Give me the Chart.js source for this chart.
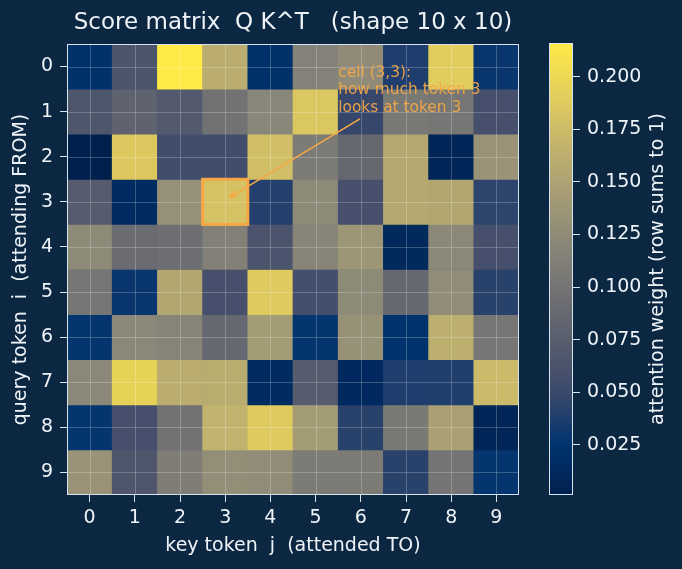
<!DOCTYPE html>
<html>
<head>
<meta charset="utf-8">
<script src="https://cdn.jsdelivr.net/npm/chart.js@4.4.1/dist/chart.umd.min.js"></script>
<style>
  html, body { margin: 0; padding: 0; background: #0c2741; }
  #wrap { position: relative; width: 682px; height: 569px; background: #0c2741; }
  #main { position: absolute; left: 0; top: 0; width: 540px; height: 569px; }
  #bar { position: absolute; left: 540px; top: 0; width: 142px; height: 569px; }
</style>
</head>
<body>
<div id="wrap">
  <div id="main"><canvas id="heat"></canvas></div>
  <div id="bar"><canvas id="cbar"></canvas></div>
</div>
<script>
// tokens (same for rows and columns)
var tokens = ['0', '1', '2', '3', '4', '5', '6', '7', '8', '9'];

// attention weights, one row per query token
var row0 = [0.022, 0.065, 0.216, 0.160, 0.022, 0.115, 0.125, 0.038, 0.190, 0.029];
var row1 = [0.066, 0.080, 0.070, 0.098, 0.120, 0.185, 0.048, 0.104, 0.102, 0.059];
var row2 = [0.0012, 0.186, 0.055, 0.055, 0.177, 0.108, 0.087, 0.156, 0.008, 0.134];
var row3 = [0.072, 0.016, 0.130, 0.180, 0.040, 0.124, 0.059, 0.156, 0.154, 0.044];
var row4 = [0.124, 0.091, 0.094, 0.113, 0.063, 0.118, 0.137, 0.012, 0.122, 0.059];
var row5 = [0.102, 0.029, 0.154, 0.059, 0.188, 0.057, 0.124, 0.087, 0.126, 0.042];
var row6 = [0.027, 0.122, 0.117, 0.086, 0.143, 0.027, 0.132, 0.024, 0.162, 0.102];
var row7 = [0.122, 0.195, 0.160, 0.159, 0.016, 0.072, 0.014, 0.038, 0.039, 0.173];
var row8 = [0.027, 0.059, 0.098, 0.166, 0.188, 0.143, 0.042, 0.106, 0.147, 0.008];
var row9 = [0.134, 0.066, 0.110, 0.128, 0.126, 0.108, 0.108, 0.042, 0.100, 0.027];
var weights = [row0, row1, row2, row3, row4, row5, row6, row7, row8, row9];

// colorbar tick labels
var cbTicks = [0.025, 0.050, 0.075, 0.100, 0.125, 0.150, 0.175, 0.200];

// cividis colour stops
var cividis = ['#00204D', '#00336F', '#39486B', '#575C6D', '#707173',
               '#8A8779', '#A69D75', '#C4B56C', '#E4CF5B', '#FFEA46'];

var allVals = weights.flat();
var vmin = Math.min.apply(null, allVals);
var vmax = Math.max.apply(null, allVals);

var FONT = 'DejaVu Sans';
var TXT = '#eef3f8';
var EDGE = '#d6e2ee';
var ORANGE = '#f7a845';
var GRID = 'rgba(255,255,255,0.22)';

function hexToRgb(h) {
  return [parseInt(h.substr(1, 2), 16), parseInt(h.substr(3, 2), 16), parseInt(h.substr(5, 2), 16)];
}
function cmap(t) {
  t = Math.max(0, Math.min(1, t));
  var p = t * (cividis.length - 1);
  var i = Math.min(Math.floor(p), cividis.length - 2);
  var f = p - i;
  var a = hexToRgb(cividis[i]), b = hexToRgb(cividis[i + 1]);
  var c = a.map(function (v, k) { return Math.round(v + (b[k] - v) * f); });
  return 'rgb(' + c[0] + ',' + c[1] + ',' + c[2] + ')';
}

// frame around the plot area
var framePlugin = {
  id: 'frame',
  afterDraw: function (chart) {
    var a = chart.chartArea, ctx = chart.ctx;
    ctx.save();
    ctx.strokeStyle = EDGE;
    ctx.lineWidth = 1;
    ctx.strokeRect(a.left + 0.5, a.top + 0.5, a.right - a.left - 1, a.bottom - a.top - 1);
    ctx.restore();
  }
};

// light grid over the cells, on the tick positions
var gridPlugin = {
  id: 'overGrid',
  afterDatasetsDraw: function (chart) {
    var x = chart.scales.x, y = chart.scales.y, a = chart.chartArea, ctx = chart.ctx;
    ctx.save();
    ctx.strokeStyle = GRID;
    ctx.lineWidth = 1;
    ctx.beginPath();
    tokens.forEach(function (t, i) {
      var px = Math.round(x.getPixelForValue(i)) + 0.5;
      ctx.moveTo(px, a.top);
      ctx.lineTo(px, a.bottom);
      var py = Math.round(y.getPixelForValue(i)) + 0.5;
      ctx.moveTo(a.left, py);
      ctx.lineTo(a.right, py);
    });
    ctx.stroke();
    ctx.restore();
  }
};

// highlight of cell (3,3) with its note
var notePlugin = {
  id: 'note',
  afterDraw: function (chart) {
    var x = chart.scales.x, y = chart.scales.y, ctx = chart.ctx;
    ctx.save();
    // box round the cell
    var x0 = x.getPixelForValue(2.5), x1 = x.getPixelForValue(3.5);
    var y0 = y.getPixelForValue(2.5), y1 = y.getPixelForValue(3.5);
    ctx.strokeStyle = ORANGE;
    ctx.lineWidth = 3;
    ctx.strokeRect(x0, y0, x1 - x0, y1 - y0);
    // arrow
    var sx = x.getPixelForValue(5.98), sy = y.getPixelForValue(1.16);
    var ex = x.getPixelForValue(3.1), ey = y.getPixelForValue(2.9);
    ctx.lineWidth = 1.6;
    ctx.beginPath();
    ctx.moveTo(sx, sy);
    ctx.lineTo(ex, ey);
    var ang = Math.atan2(ey - sy, ex - sx), hl = 8;
    ctx.moveTo(ex - hl * Math.cos(ang - 0.4), ey - hl * Math.sin(ang - 0.4));
    ctx.lineTo(ex, ey);
    ctx.lineTo(ex - hl * Math.cos(ang + 0.4), ey - hl * Math.sin(ang + 0.4));
    ctx.stroke();
    // text
    ctx.fillStyle = ORANGE;
    ctx.globalAlpha = 0.92;
    ctx.font = '15.4px "' + FONT + '"';
    ctx.textAlign = 'left';
    ctx.textBaseline = 'alphabetic';
    var tx = x.getPixelForValue(5.5), ty = y.getPixelForValue(1.0);
    ctx.fillText('cell (3,3):', tx, ty - 34.6);
    ctx.fillText('how much token 3', tx, ty - 17.3);
    ctx.fillText('looks at token 3', tx, ty);
    ctx.restore();
  }
};

var heatData = weights.map(function (row, r) {
  return {
    data: row.map(function () { return [r - 0.5, r + 0.5]; }),
    backgroundColor: row.map(function (v) { return cmap((v - vmin) / (vmax - vmin)); }),
    borderWidth: 0,
    grouped: false,
    barPercentage: 1,
    categoryPercentage: 1
  };
});

var heat = new Chart(document.getElementById('heat').getContext('2d'), {
  type: 'bar',
  data: { labels: tokens, datasets: heatData },
  options: {
    responsive: true,
    maintainAspectRatio: false,
    animation: false,
    layout: { padding: { top: 0, right: 21, bottom: 0, left: 0 } },
    plugins: {
      legend: { display: false },
      tooltip: { enabled: false },
      title: {
        display: true,
        fullSize: false,
        text: 'Score matrix  Q K^T   (shape 10 x 10)',
        color: TXT,
        font: { family: FONT, size: 23, weight: 'normal' },
        padding: { top: 9, bottom: 7.4 }
      }
    },
    scales: {
      x: {
        offset: true,
        grid: { offset: false, drawOnChartArea: false, tickColor: EDGE, tickLength: 7, lineWidth: 1 },
        border: { display: false },
        ticks: { color: TXT, font: { family: FONT, size: 19 }, padding: 5, maxRotation: 0 },
        title: {
          display: true, text: 'key token  j  (attended TO)', color: TXT,
          font: { family: FONT, size: 19 }, padding: { top: 0, bottom: 12 }
        },
        afterFit: function (s) { s.height = 74; }
      },
      y: {
        type: 'linear',
        reverse: true,
        min: -0.5,
        max: 9.5,
        afterBuildTicks: function (s) {
          s.ticks = tokens.map(function (t) { return { value: Number(t) }; });
        },
        grid: { drawOnChartArea: false, tickColor: EDGE, tickLength: 7, lineWidth: 1 },
        border: { display: false },
        ticks: {
          color: TXT, font: { family: FONT, size: 19 }, padding: 7,
          callback: function (v) { return String(v); }
        },
        title: {
          display: true, text: 'query token  i  (attending FROM)', color: TXT,
          font: { family: FONT, size: 19 }, padding: { top: 10, bottom: 0 }
        },
        afterFit: function (s) { s.width = 67; }
      }
    }
  },
  plugins: [gridPlugin, framePlugin, notePlugin]
});

// colorbar
var cbTitlePlugin = {
  id: 'cbTitle',
  afterDraw: function (chart) {
    var a = chart.chartArea, ctx = chart.ctx;
    ctx.save();
    ctx.translate(118, (a.top + a.bottom) / 2);
    ctx.rotate(-Math.PI / 2);
    ctx.fillStyle = TXT;
    ctx.font = '19px "' + FONT + '"';
    ctx.textAlign = 'center';
    ctx.textBaseline = 'middle';
    ctx.fillText('attention weight (row sums to 1)', 0, 0);
    ctx.restore();
  }
};

var cbar = new Chart(document.getElementById('cbar').getContext('2d'), {
  type: 'bar',
  data: {
    labels: [''],
    datasets: [{
      data: [[vmin, vmax]],
      borderWidth: 0,
      barPercentage: 1,
      categoryPercentage: 1,
      backgroundColor: function (ctx) {
        var chart = ctx.chart;
        if (!chart.chartArea) return cividis[0];
        var y = chart.scales.y;
        var g = chart.ctx.createLinearGradient(0, y.getPixelForValue(vmin), 0, y.getPixelForValue(vmax));
        cividis.forEach(function (c, i) { g.addColorStop(i / (cividis.length - 1), c); });
        return g;
      }
    }]
  },
  options: {
    responsive: true,
    maintainAspectRatio: false,
    animation: false,
    layout: { padding: { top: 43, right: 0, bottom: 74, left: 9 } },
    plugins: { legend: { display: false }, tooltip: { enabled: false } },
    scales: {
      x: { display: false },
      y: {
        position: 'right',
        min: vmin,
        max: vmax,
        afterBuildTicks: function (s) {
          s.ticks = cbTicks.map(function (v) { return { value: v }; });
        },
        grid: { drawOnChartArea: false, tickColor: EDGE, tickLength: 7 },
        border: { display: false },
        ticks: {
          color: TXT, font: { family: FONT, size: 19 }, padding: 7,
          callback: function (v) { return v.toFixed(3); }
        },
        afterFit: function (s) { s.width = 109; }
      }
    }
  },
  plugins: [framePlugin, cbTitlePlugin]
});
</script>
</body>
</html>
